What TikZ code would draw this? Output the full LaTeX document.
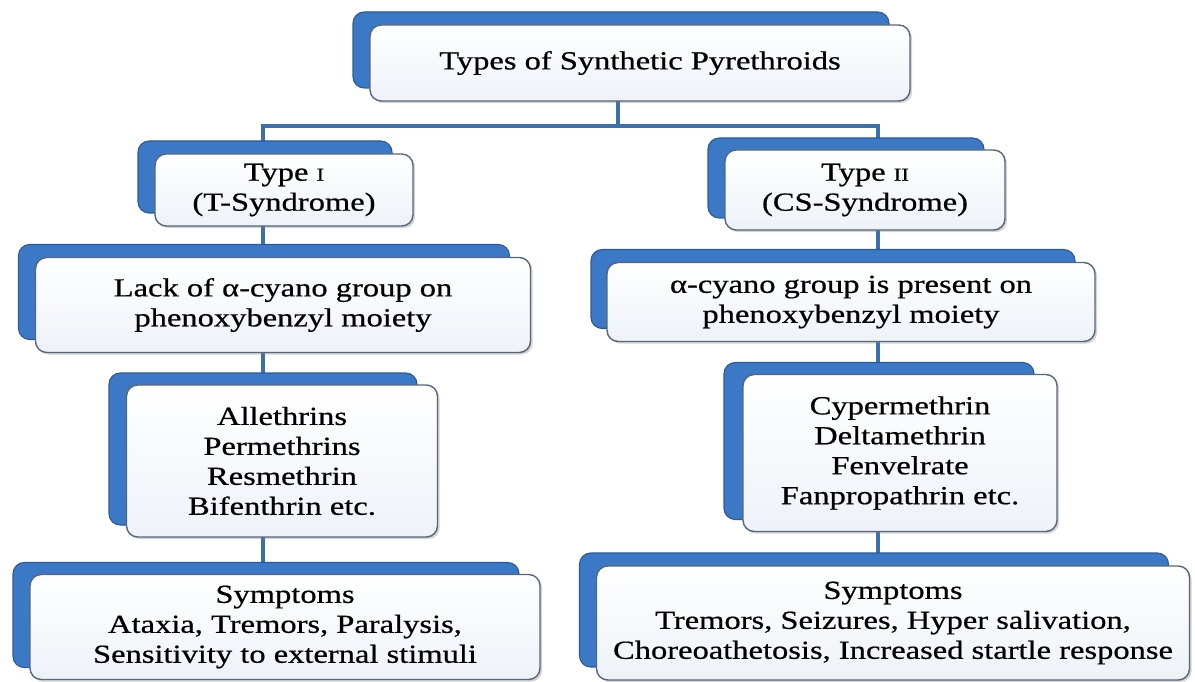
\documentclass[tikz,border=0pt]{standalone}
\usepackage{fontspec}
\setmainfont{Liberation Serif}[FakeStretch=1.25,FakeBold=0.6]
\usetikzlibrary{calc,shadows}
\pgfdeclarelayer{background}
\pgfsetlayers{background,main}
\definecolor{backblue}{HTML}{3B78C6}
\definecolor{backedge}{HTML}{2C5A98}
\definecolor{frontedge}{HTML}{56667C}
\definecolor{frontfill}{HTML}{EEF2F8}
\definecolor{linkblue}{HTML}{3F6EAD}
\newcommand{\pxu}{0.025cm}
\newcommand{\smallroman}[1]{{\fontsize{13}{12}\selectfont #1}}
\tikzset{
  backbox/.style={rectangle, rounded corners=8pt, fill=backblue, draw=backedge, line width=0.8pt, inner sep=0pt},
  frontbox/.style={rectangle, rounded corners=8pt, draw=frontedge, line width=1pt,
    top color=white, bottom color=frontfill,
    drop shadow={shadow xshift=1.5pt, shadow yshift=-1.5pt, opacity=0.35},
    align=center, inner sep=0pt, font=\fontsize{18.5}{21.3}\selectfont},
  link/.style={draw=linkblue, line width=2.6pt},
}
\begin{document}
\begin{tikzpicture}[x=0.025cm,y=-0.025cm]
\useasboundingbox (0,0) rectangle (1195,682);
% front boxes
\node[frontbox, minimum width=540*\pxu, minimum height=76*\pxu] (top) at (640,63) {Types of Synthetic Pyrethroids};
\node[frontbox, minimum width=258*\pxu, minimum height=72*\pxu] (typeI) at (284,190) {Type \smallroman{I}\\(T-Syndrome)};
\node[frontbox, minimum width=280*\pxu, minimum height=80*\pxu] (typeII) at (865,190) {Type \smallroman{II}\\(CS-Syndrome)};
\node[frontbox, minimum width=495*\pxu, minimum height=95*\pxu] (lackL) at (283,305) {Lack of α-cyano group on\\phenoxybenzyl moiety};
\node[frontbox, minimum width=488*\pxu, minimum height=79*\pxu] (presentR) at (851,302) {α-cyano group is present on\\phenoxybenzyl moiety};
\node[frontbox, minimum width=311*\pxu, minimum height=152*\pxu] (alleth) at (282,461) {Allethrins\\Permethrins\\Resmethrin\\Bifenthrin etc.};
\node[frontbox, minimum width=314*\pxu, minimum height=157*\pxu] (cyper) at (900,453) {Cypermethrin\\Deltamethrin\\Fenvelrate\\Fanpropathrin etc.};
\node[frontbox, minimum width=510*\pxu, minimum height=105*\pxu] (sympL) at (285,627) {Symptoms\\Ataxia, Tremors, Paralysis,\\Sensitivity to external stimuli};
\node[frontbox, minimum width=593*\pxu, minimum height=114*\pxu] (sympR) at (893,623) {Symptoms\\Tremors, Seizures, Hyper salivation,\\Choreoathetosis, Increased startle response};
\begin{pgfonlayer}{background}
% connectors
\coordinate (stem) at (618,126);
\coordinate (colL) at (263,126);
\coordinate (colR) at (878,126);
\draw[link] (stem |- top.center) -- (stem);
\draw[link] (colL |- typeI.center) -- (colL) -- (colR) -- (colR |- typeII.center);
\draw[link] (colL |- typeI.center) -- (colL |- lackL.center);
\draw[link] (colL |- lackL.center) -- (colL |- alleth.center);
\draw[link] (colL |- alleth.center) -- (colL |- sympL.center);
\draw[link] (colR |- typeII.center) -- (colR |- presentR.center);
\draw[link] (colR |- presentR.center) -- (colR |- cyper.center);
\draw[link] (colR |- cyper.center) -- (colR |- sympR.center);
% back boxes
\node[backbox, minimum width=536*\pxu, minimum height=76*\pxu] (topB) at ($(top)+(-19,-13)$) {};
\node[backbox, minimum width=254*\pxu, minimum height=72*\pxu] (typeIB) at ($(typeI)+(-19,-13)$) {};
\node[backbox, minimum width=276*\pxu, minimum height=80*\pxu] (typeIIB) at ($(typeII)+(-19,-12)$) {};
\node[backbox, minimum width=491*\pxu, minimum height=95*\pxu] (lackLB) at ($(lackL)+(-19,-13)$) {};
\node[backbox, minimum width=484*\pxu, minimum height=79*\pxu] (presentRB) at ($(presentR)+(-18,-13)$) {};
\node[backbox, minimum width=308*\pxu, minimum height=152*\pxu] (allethB) at ($(alleth)+(-19,-12)$) {};
\node[backbox, minimum width=310*\pxu, minimum height=157*\pxu] (cyperB) at ($(cyper)+(-21,-12)$) {};
\node[backbox, minimum width=506*\pxu, minimum height=105*\pxu] (sympLB) at ($(sympL)+(-19,-12)$) {};
\node[backbox, minimum width=589*\pxu, minimum height=114*\pxu] (sympRB) at ($(sympR)+(-19,-13)$) {};
\end{pgfonlayer}
\end{tikzpicture}
\end{document}
